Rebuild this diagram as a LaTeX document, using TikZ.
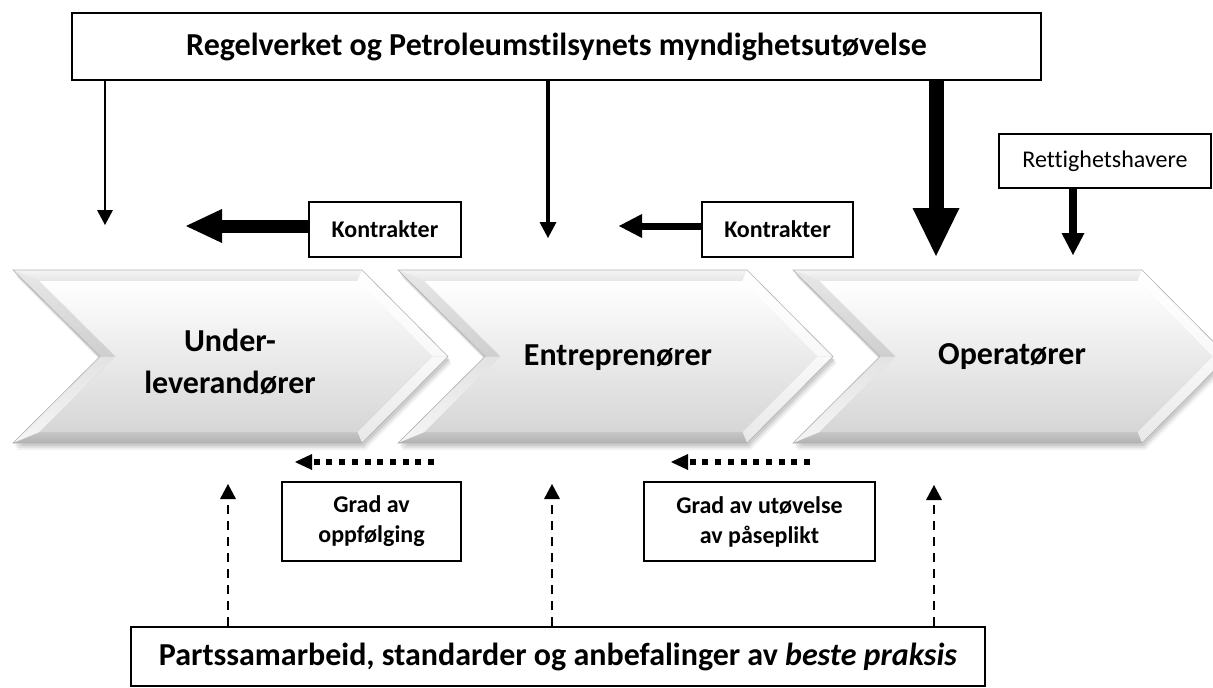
\documentclass[tikz,border=0pt]{standalone}
\usepackage{fontspec}
\setmainfont{Carlito}[Ligatures=NoCommon]
\usetikzlibrary{arrows.meta}
\newcommand\mychev[1]{%
\begin{scope}[shift={(#1,270)}]
  \foreach \sh/\sp in {7/0.05,5/0.07,3/0.09}{%
    \fill[black,opacity=\sp] (0+\sh/2,\sh)--(349+\sh/2,\sh)--(435+\sh/2,86.5+\sh)--(349+\sh/2,173+\sh)--(0+\sh/2,173+\sh)--(87+\sh/2,86.5+\sh)--cycle;}
  \shade[top color=gray!15,bottom color=gray!55] (0,0)--(349,0)--(435,86.5)--(349,173)--(0,173)--(87,86.5)--cycle;
  % facets
  \shade[top color=gray!8,bottom color=gray!20] (0,0)--(349,0)--(344.4,11)--(26.6,11)--cycle;
  \shade[top color=white,bottom color=gray!5] (349,0)--(435,86.5)--(419.4,86.5)--(344.4,11)--cycle;
  \shade[top color=gray!5,bottom color=gray!18] (435,86.5)--(349,173)--(344.4,162)--(419.4,86.5)--cycle;
  \shade[top color=gray!45,bottom color=gray!60] (349,173)--(0,173)--(26.6,162)--(344.4,162)--cycle;
  \shade[top color=gray!22,bottom color=gray!8] (0,173)--(87,86.5)--(102.6,86.5)--(26.6,162)--cycle;
  \shade[top color=gray!18,bottom color=gray!38] (87,86.5)--(0,0)--(26.6,11)--(102.6,86.5)--cycle;
  \shade[top color=white,bottom color=gray!32] (26.6,11)--(344.4,11)--(419.4,86.5)--(344.4,162)--(26.6,162)--(102.6,86.5)--cycle;
  \draw[gray!60,line width=0.6pt] (0,0)--(349,0)--(435,86.5)--(349,173)--(0,173)--(87,86.5)--cycle;
\end{scope}}
\begin{document}
\begin{tikzpicture}[x=1pt,y=-1pt,
  box/.style={draw,line width=1.3pt,fill=white,inner sep=0pt,align=center},
  chevtext/.style={font=\bfseries\fontsize{32}{42}\selectfont,align=center},
  smallbold/.style={font=\bfseries\fontsize{24}{30}\selectfont},
  dotarrow/.style={line width=6pt,dash pattern=on 6pt off 6.7pt,-{Triangle[length=17pt,width=16pt,line width=0pt]}},
  dasharrow/.style={line width=2pt,dash pattern=on 9pt off 7pt,-{Triangle[length=15pt,width=16pt,line width=0pt]}}]
\useasboundingbox (0,0) rectangle (1213,688);
\clip (0,0) rectangle (1213,688);

% chevrons
\mychev{13}
\mychev{398}
\mychev{793}
\node[chevtext] (ch1) at (230,362) {Under-\\leverandører};
\node[chevtext] (ch2) at (618,358) {Entreprenører};
\node[chevtext] (ch3) at (1012,357) {Operatører};

% top box
\node[box,minimum width=969pt,minimum height=67pt,font=\bfseries\fontsize{32}{38}\selectfont] (top) at (556.5,46.5) {Regelverket og Petroleumstilsynets myndighetsutøvelse};
\coordinate (t1) at (105,225);
\coordinate (t2) at (548,238);
\coordinate (t3) at (936,256);
\draw[line width=1.5pt,-{Triangle[length=15pt,width=16pt,line width=0pt]}] (top.south -| t1) -- (t1);
\draw[line width=3.5pt,-{Triangle[length=16pt,width=17pt,line width=0pt]}] (top.south -| t2) -- (t2);
\draw[line width=15pt,-{Triangle[length=48pt,width=47pt,line width=0pt]}] (top.south -| t3) -- (t3);

% Rettighetshavere
\node[box,minimum width=212pt,minimum height=54pt,font=\fontsize{24}{30}\selectfont] (ret) at (1105,161) {Rettighetshavere};
\coordinate (t4) at (1073,255);
\draw[line width=8pt,-{Triangle[length=22pt,width=23pt,line width=0pt]}] (ret.south -| t4) -- (t4);

% Kontrakter
\node[box,minimum width=152pt,minimum height=55pt,smallbold] (k1) at (385,229.5) {Kontrakter};
\node[box,minimum width=151pt,minimum height=55pt,smallbold] (k2) at (777.5,229.5) {Kontrakter};
\coordinate (k1tip) at (186,226);
\coordinate (k2tip) at (619,226);
\draw[line width=13pt,-{Triangle[length=36pt,width=34pt,line width=0pt]}] (k1.west |- k1tip) -- (k1tip);
\draw[line width=7pt,-{Triangle[length=23pt,width=24pt,line width=0pt]}] (k2.west |- k2tip) -- (k2tip);

% dotted arrows
\coordinate (d1a) at (434,462);
\coordinate (d1b) at (295,462);
\coordinate (d2a) at (810,462);
\coordinate (d2b) at (671,462);
\draw[dotarrow] (d1a) -- (d1b);
\draw[dotarrow] (d2a) -- (d2b);

% Grad boxes
\node[box,minimum width=179pt,minimum height=79pt,smallbold] (g1) at (371.5,521.5) {Grad av\\oppfølging};
\node[box,minimum width=231pt,minimum height=79pt,smallbold] (g2) at (759.5,521.5) {Grad av utøvelse\\av påseplikt};

% bottom box
\node[box,minimum width=854pt,minimum height=59pt,font=\bfseries\fontsize{32}{36}\selectfont] (bot) at (558,656.5) {Partssamarbeid, standarder og anbefalinger av \textit{beste praksis}};
\coordinate (u1) at (228,484);
\coordinate (u2) at (552,484);
\coordinate (u3) at (934,485);
\draw[dasharrow] (bot.north -| u1) -- (u1);
\draw[dasharrow] (bot.north -| u2) -- (u2);
\draw[dasharrow] (bot.north -| u3) -- (u3);
\end{tikzpicture}
\end{document}
